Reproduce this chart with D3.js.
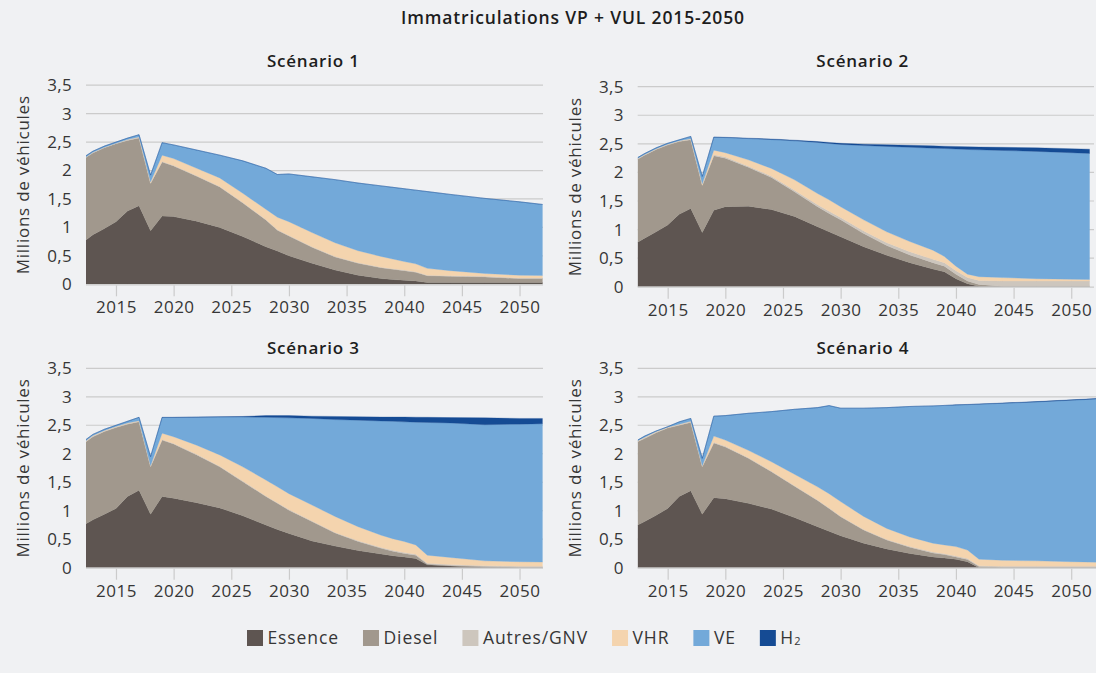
<!DOCTYPE html>
<html>
<head>
<meta charset="utf-8">
<script src="https://cdn.jsdelivr.net/npm/d3@7/dist/d3.min.js"></script>
<style>
  html, body { margin: 0; padding: 0; background: #f0f1f3; }
  svg { display: block; font-family: "Open Sans", "Noto Sans", sans-serif; }
</style>
</head>
<body>
<svg id="chart" width="1096" height="673"></svg>
<script>
// ---------------- DATA ----------------
const chartTitle = "Immatriculations VP + VUL 2015-2050";
const yAxisTitle = "Millions de véhicules";
const categories = ["Essence", "Diesel", "Autres/GNV", "VHR", "VE", "H2"];
const legendLabels = ["Essence", "Diesel", "Autres/GNV", "VHR", "VE", "H₂"];
const colors = ["#5e5551", "#a1988d", "#cdc6bd", "#f4d4ae", "#73a9d9", "#154b94"];
const scenarioTitles = ["Scénario 1", "Scénario 2", "Scénario 3", "Scénario 4"];
const years = [2012.4, 2013, 2014, 2015, 2016, 2017, 2018, 2019, 2020, 2022, 2024, 2026, 2028, 2029, 2030,
               2032, 2034, 2036, 2038, 2039, 2040, 2041, 2042, 2044, 2047, 2050, 2053];
const xTicks = [2015, 2020, 2025, 2030, 2035, 2040, 2045, 2050];
const yTicks = [0, 0.5, 1, 1.5, 2, 2.5, 3, 3.5];

// Scénario 1
const sc1Essence = [.78,.87,.98,1.10,1.29,1.38,.94,1.20,1.19,1.11,1.00,.84,.66,.585,.50,.37,.25,.16,.10,.085,.07,.06,.03,.03,.03,.03,.03];
const sc1Diesel  = [1.45,1.44,1.42,1.37,1.24,1.19,.83,.95,.89,.79,.71,.59,.47,.365,.35,.28,.23,.21,.19,.18,.17,.15,.12,.11,.10,.07,.07];
const sc1Autres  = [.01,.01,.01,.01,.01,.01,.01,.01,.01,.01,.01,.01,.01,.01,.01,.01,.01,.01,.01,.01,.01,.01,.01,.01,.01,.01,.01];
const sc1VHR     = [0,0,0,0,.005,.01,.02,.11,.12,.13,.15,.16,.18,.22,.24,.25,.24,.21,.19,.17,.15,.14,.12,.09,.05,.05,.04];
const sc1VE      = [.02,.02,.02,.02,.025,.04,.12,.22,.24,.32,.40,.57,.72,.75,.84,.98,1.11,1.19,1.24,1.26,1.28,1.295,1.35,1.34,1.32,1.29,1.23];
const sc1H2      = [0,0,0,0,0,0,0,0,0,0,0,0,0,0,0,0,0,0,0,0,0,0,0,0,0,0,0];

// Scénario 2
const sc2Essence = [.78,.85,.96,1.08,1.27,1.37,.95,1.34,1.40,1.41,1.35,1.23,1.05,.96,.875,.70,.55,.42,.31,.26,.14,.05,.01,0,0,0,0];
const sc2Diesel  = [1.45,1.45,1.44,1.40,1.27,1.20,.82,.95,.85,.68,.56,.43,.35,.32,.295,.23,.17,.135,.11,.10,.08,.05,.03,.01,.01,.01,.01];
const sc2Autres  = [.01,.01,.01,.01,.01,.01,.01,.02,.02,.02,.025,.03,.035,.04,.04,.045,.05,.055,.06,.06,.06,.06,.07,.09,.09,.09,.09];
const sc2VHR     = [.005,.005,.005,.005,.005,.01,.02,.08,.075,.11,.135,.18,.195,.20,.19,.195,.19,.18,.16,.11,.08,.06,.065,.06,.04,.03,.02];
const sc2VE      = [.015,.015,.015,.015,.015,.04,.13,.225,.265,.372,.505,.683,.895,.987,1.09,1.30,1.495,1.65,1.785,1.888,2.05,2.182,2.22,2.225,2.228,2.215,2.202];
const sc2H2      = [0,0,0,0,0,0,0,.005,.005,.008,.01,.012,.015,.018,.02,.025,.03,.035,.04,.042,.045,.048,.05,.055,.062,.07,.078];

// Scénario 3
const sc3Essence = [.77,.84,.94,1.04,1.25,1.36,.94,1.25,1.22,1.14,1.05,.91,.75,.67,.60,.47,.38,.30,.24,.21,.19,.16,.05,.03,.01,0,0];
const sc3Diesel  = [1.44,1.46,1.45,1.42,1.27,1.20,.83,.99,.95,.84,.72,.60,.50,.46,.41,.34,.23,.16,.10,.08,.06,.06,.015,.01,.01,.01,.01];
const sc3Autres  = [.01,.01,.01,.01,.01,.01,.01,.01,.01,.01,.01,.01,.01,.01,.01,.01,.01,.015,.015,.015,.015,.015,.015,.015,.015,.015,.015];
const sc3VHR     = [.01,.01,.01,.01,.01,.01,.01,.11,.12,.16,.20,.25,.28,.28,.28,.28,.28,.245,.215,.205,.195,.165,.14,.125,.085,.08,.07];
const sc3VE      = [.02,.02,.02,.02,.03,.06,.16,.277,.337,.492,.665,.875,1.10,1.215,1.33,1.52,1.70,1.87,2.005,2.06,2.10,2.155,2.33,2.36,2.39,2.415,2.435];
const sc3H2      = [0,0,0,0,0,0,0,.003,.003,.003,.005,.01,.03,.035,.04,.04,.055,.06,.07,.075,.085,.087,.09,.095,.12,.10,.09];

// Scénario 4
const sc4Essence = [.75,.81,.92,1.04,1.25,1.35,.94,1.23,1.21,1.13,1.03,.88,.72,.64,.56,.43,.33,.25,.19,.17,.15,.105,0,0,0,0,0];
const sc4Diesel  = [1.46,1.46,1.45,1.41,1.25,1.20,.83,.96,.91,.79,.655,.55,.46,.40,.335,.23,.155,.11,.07,.06,.04,.04,.02,.01,.01,.01,.01];
const sc4Autres  = [.01,.01,.01,.01,.01,.01,.01,.01,.01,.01,.01,.01,.01,.01,.01,.01,.01,.012,.015,.015,.015,.015,.015,.015,.015,.015,.015];
const sc4VHR     = [.01,.01,.01,.005,.01,.01,.01,.11,.11,.13,.165,.20,.23,.25,.255,.23,.195,.168,.155,.155,.165,.15,.115,.105,.095,.08,.07];
const sc4VE      = [.01,.02,.01,.01,.04,.05,.13,.35,.43,.65,.88,1.14,1.39,1.545,1.64,1.90,2.12,2.29,2.41,2.448,2.485,2.552,2.72,2.755,2.79,2.835,2.875];
const sc4H2      = [0,0,0,0,0,0,0,0,0,0,0,0,0,0,0,0,0,0,0,0,.004,.004,.005,.005,.006,.007,.008];

const scenarioSeries = [
  [sc1Essence, sc1Diesel, sc1Autres, sc1VHR, sc1VE, sc1H2],
  [sc2Essence, sc2Diesel, sc2Autres, sc2VHR, sc2VE, sc2H2],
  [sc3Essence, sc3Diesel, sc3Autres, sc3VHR, sc3VE, sc3H2],
  [sc4Essence, sc4Diesel, sc4Autres, sc4VHR, sc4VE, sc4H2]
];

// ---------------- LAYOUT ----------------
const panels = [
  { left: 86,    right: 542.6, xEnd: 2052.0, gridRight: 543,  bottom: 284.3, top: 85.2,  titleY: 66.5,  yTitleX: 29 },
  { left: 637.7, right: 1089.7, xEnd: 2051.6, gridRight: 1094, bottom: 286.7, top: 86.7, titleY: 66.5,  yTitleX: 581 },
  { left: 86,    right: 542.6, xEnd: 2052.0, gridRight: 543,  bottom: 567.7, top: 368.3, titleY: 353.5, yTitleX: 29 },
  { left: 637.7, right: 1105.8, xEnd: 2053.0, gridRight: 1100, bottom: 567.7, top: 368.3, titleY: 353.5, yTitleX: 581 }
];

const svg = d3.select("#chart");
const textColor = "#363636";
const gridColor = "#cbcbcb";
const frFormat = v => String(v).replace(".", ",");

svg.append("text")
  .attr("x", 573).attr("y", 23.5)
  .attr("text-anchor", "middle")
  .attr("font-size", 17.5).attr("font-weight", 600)
  .attr("letter-spacing", 0.85)
  .attr("fill", "#1d1d1d")
  .text(chartTitle);

scenarioSeries.forEach((series, i) => {
  const p = panels[i];
  const x = d3.scaleLinear().domain([years[0], p.xEnd]).range([p.left, p.right]);
  const y = d3.scaleLinear().domain([0, 3.5]).range([p.bottom, p.top]);
  const g = svg.append("g");

  const rows = years.map((yr, k) => {
    const r = { year: yr };
    categories.forEach((c, j) => r[c] = series[j][k]);
    return r;
  });
  const stacked = d3.stack().keys(categories)(rows);

  // gridlines
  g.append("g").selectAll("line")
    .data(yTicks.filter(t => t > 0))
    .join("line")
    .attr("x1", p.left).attr("x2", p.gridRight)
    .attr("y1", d => y(d)).attr("y2", d => y(d))
    .attr("stroke", gridColor).attr("stroke-width", 1.2);

  // clip
  const clipId = "clip" + i;
  svg.append("clipPath").attr("id", clipId)
    .append("rect")
    .attr("x", p.left).attr("y", p.top - 10)
    .attr("width", p.right - p.left).attr("height", p.bottom - p.top + 10);

  const area = d3.area()
    .x(d => x(d.data.year))
    .y0(d => y(d[0]))
    .y1(d => y(d[1]))
    .curve(d3.curveLinear);

  g.append("g").attr("clip-path", `url(#${clipId})`)
    .selectAll("path")
    .data(stacked)
    .join("path")
    .attr("d", area)
    .attr("fill", (d, j) => colors[j])
    .attr("stroke", (d, j) => colors[j])
    .attr("stroke-width", 0.3);

  // x axis baseline and ticks
  g.append("line")
    .attr("x1", p.left).attr("x2", p.gridRight)
    .attr("y1", y(0) + 0.5).attr("y2", y(0) + 0.5)
    .attr("stroke", gridColor).attr("stroke-width", 1.2);

  const xAxis = d3.axisBottom(x).tickValues(xTicks).tickSize(11).tickSizeOuter(0).tickPadding(5).tickFormat(d3.format("d"));
  const ax = g.append("g").attr("transform", `translate(0,${y(0) + 1})`).call(xAxis);
  ax.select(".domain").remove();
  ax.selectAll(".tick line").attr("stroke", gridColor).attr("stroke-width", 1.2);
  ax.selectAll(".tick text").attr("fill", textColor).attr("font-size", 17)
    .attr("letter-spacing", 0.5)
    .attr("font-family", "'Open Sans', sans-serif");

  const yAxis = d3.axisLeft(y).tickValues(yTicks).tickSize(0).tickPadding(14).tickFormat(frFormat);
  const ay = g.append("g").attr("transform", `translate(${p.left},0)`).call(yAxis);
  ay.select(".domain").remove();
  ay.selectAll(".tick text").attr("fill", textColor).attr("font-size", 17)
    .attr("letter-spacing", 0.3)
    .attr("font-family", "'Open Sans', sans-serif");

  // panel title
  g.append("text")
    .attr("x", (p.left + Math.min(p.right, 1090)) / 2 - 1)
    .attr("y", p.titleY)
    .attr("text-anchor", "middle")
    .attr("font-size", 17).attr("font-weight", 600)
    .attr("letter-spacing", 0.8)
    .attr("fill", "#1d1d1d")
    .text(scenarioTitles[i]);

  // y-axis title
  g.append("text")
    .attr("transform", `translate(${p.yTitleX},${(p.top + p.bottom) / 2}) rotate(-90)`)
    .attr("text-anchor", "middle")
    .attr("font-size", 17)
    .attr("letter-spacing", 0.75)
    .attr("fill", textColor)
    .text(yAxisTitle);
});

// ---------------- LEGEND ----------------
const legend = svg.append("g").attr("transform", "translate(247,630)");
let lx = 0;
legendLabels.forEach((lab, j) => {
  const it = legend.append("g").attr("transform", `translate(${lx},0)`);
  it.append("rect").attr("width", 16).attr("height", 16).attr("fill", colors[j]);
  const t = it.append("text").attr("x", 20.5).attr("y", 14)
    .attr("font-size", 17.5).attr("letter-spacing", 0.9).attr("fill", textColor);
  if (lab === "H₂") {
    t.append("tspan").text("H");
    t.append("tspan").attr("font-size", 11).attr("dy", 1).text("2");
  } else {
    t.text(lab);
  }
  lx += 20.5 + t.node().getComputedTextLength() + 24;
});
</script>
</body>
</html>
